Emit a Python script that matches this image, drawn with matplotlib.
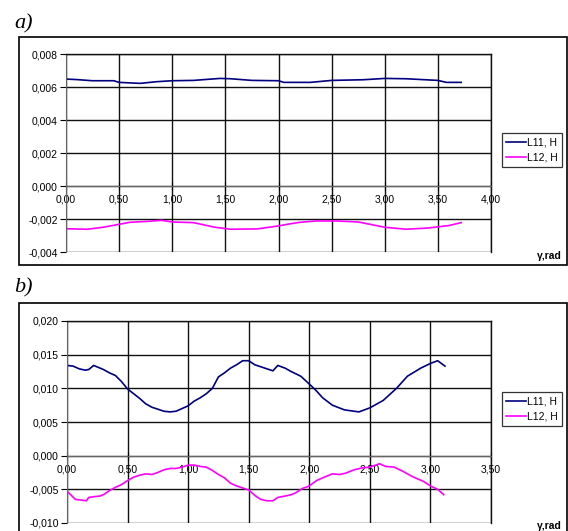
import matplotlib.pyplot as plt
from matplotlib.patches import Rectangle

# panel a data
xa_l11 = [0.00, 0.10, 0.25, 0.45, 0.50, 0.70, 0.85, 1.00, 1.20, 1.45, 1.55, 1.75, 2.00, 2.05, 2.30, 2.50, 2.80, 3.00, 3.20, 3.50, 3.58, 3.72]
ya_l11 = [0.00648, 0.00645, 0.00638, 0.00638, 0.00628, 0.00622, 0.00632, 0.00638, 0.00640, 0.00652, 0.00650, 0.00640, 0.00638, 0.00628, 0.00628, 0.00640, 0.00644, 0.00652, 0.00650, 0.00640, 0.00628, 0.00628]
xa_l12 = [0.00, 0.20, 0.35, 0.50, 0.60, 0.75, 0.90, 1.00, 1.20, 1.40, 1.55, 1.80, 2.00, 2.10, 2.20, 2.35, 2.55, 2.75, 3.00, 3.20, 3.40, 3.60, 3.72]
ya_l12 = [-0.00259, -0.00262, -0.00250, -0.00232, -0.00220, -0.00215, -0.00208, -0.00218, -0.00222, -0.00250, -0.00262, -0.00260, -0.00242, -0.00230, -0.00220, -0.00212, -0.00212, -0.00218, -0.00250, -0.00262, -0.00255, -0.00240, -0.00222]

# panel b data
xb_l11 = [0.00, 0.05, 0.10, 0.15, 0.18, 0.22, 0.30, 0.35, 0.40, 0.45, 0.50, 0.55, 0.60, 0.65, 0.70, 0.75, 0.80, 0.85, 0.90, 0.95,
          1.00, 1.05, 1.10, 1.15, 1.20, 1.25, 1.30, 1.35, 1.40, 1.45, 1.50, 1.55, 1.60, 1.65, 1.70, 1.74, 1.80, 1.85,
          1.93, 2.02, 2.06, 2.11, 2.19, 2.29, 2.41, 2.50, 2.61, 2.72, 2.81, 2.92, 3.00, 3.06, 3.12]
yb_l11 = [0.0134, 0.0133, 0.0129, 0.0127, 0.0128, 0.0134, 0.0128, 0.0123, 0.0119, 0.0110, 0.0099, 0.0092, 0.0085, 0.0077, 0.0072, 0.0069, 0.0066, 0.0065, 0.0066, 0.0070,
          0.0074, 0.0081, 0.0086, 0.0092, 0.0100, 0.0117, 0.0123, 0.0130, 0.0135, 0.0141, 0.0141, 0.0135, 0.0132, 0.0129, 0.0126, 0.0134, 0.0130, 0.0125,
          0.0118, 0.0103, 0.0096, 0.0086, 0.0075, 0.0068, 0.0065, 0.0071, 0.0082, 0.0100, 0.0118, 0.0130, 0.0137, 0.0141, 0.0133]
xb_l12 = [0.00, 0.03, 0.07, 0.12, 0.16, 0.18, 0.22, 0.27, 0.30, 0.35, 0.40, 0.45, 0.50, 0.55, 0.60, 0.65, 0.70, 0.75, 0.80, 0.85, 0.90, 0.95,
          1.00, 1.05, 1.10, 1.15, 1.20, 1.25, 1.30, 1.35, 1.40, 1.45, 1.50, 1.55, 1.60, 1.65, 1.70, 1.74, 1.80, 1.85,
          1.89, 1.94, 2.00, 2.06, 2.11, 2.19, 2.25, 2.30, 2.37, 2.44, 2.50, 2.58, 2.63, 2.70, 2.77, 2.85, 2.94, 3.01, 3.06, 3.11]
yb_l12 = [-0.0053, -0.0058, -0.0065, -0.0066, -0.0067, -0.0062, -0.0061, -0.0060, -0.0058, -0.0052, -0.0047, -0.0043, -0.0037, -0.0032, -0.0029, -0.0027, -0.0028, -0.0025, -0.0021, -0.0019, -0.0019, -0.0017,
          -0.0014, -0.0014, -0.0016, -0.0017, -0.0022, -0.0028, -0.0033, -0.0041, -0.0045, -0.0048, -0.0051, -0.0059, -0.0065, -0.0067, -0.0067, -0.0062, -0.0060, -0.0058,
          -0.0055, -0.0049, -0.0045, -0.0037, -0.0033, -0.0027, -0.0028, -0.0026, -0.0021, -0.0018, -0.0017, -0.0012, -0.0016, -0.0017, -0.0023, -0.0031, -0.0038, -0.0046, -0.0050, -0.0058]

xticks_a = [0, 0.5, 1.0, 1.5, 2.0, 2.5, 3.0, 3.5, 4.0]
xlabels_a = ['0,00', '0,50', '1,00', '1,50', '2,00', '2,50', '3,00', '3,50', '4,00']
yticks_a = [-0.004, -0.002, 0.0, 0.002, 0.004, 0.006, 0.008]
ylabels_a = ['-0,004', '-0,002', '0,000', '0,002', '0,004', '0,006', '0,008']
xticks_b = [0, 0.5, 1.0, 1.5, 2.0, 2.5, 3.0, 3.5]
xlabels_b = ['0,00', '0,50', '1,00', '1,50', '2,00', '2,50', '3,00', '3,50']
yticks_b = [-0.010, -0.005, 0.0, 0.005, 0.010, 0.015, 0.020]
ylabels_b = ['-0,010', '-0,005', '0,000', '0,005', '0,010', '0,015', '0,020']

W, H = 568, 531
plt.rcParams['font.family'] = ['Liberation Sans', 'DejaVu Sans']
fig = plt.figure(figsize=(W / 100, H / 100), dpi=100)


def px_axes(l, t, r, b):
    return fig.add_axes([l / W, 1 - b / H, (r - l) / W, (b - t) / H])


def style(ax, xt, xl, yt, yl):
    ax.set_xticks(xt)
    ax.set_xticklabels(xl)
    ax.set_yticks(yt)
    ax.set_yticklabels(yl)
    ax.set_xlim(xt[0], xt[-1])
    ax.set_ylim(yt[0], yt[-1])
    ax.grid(True, color='#111111', lw=1.0)
    for s in ['top', 'right']:
        ax.spines[s].set_color('#111111')
        ax.spines[s].set_linewidth(1.0)
    ax.spines['left'].set_color('#666666')
    ax.spines['bottom'].set_position(('data', 0))
    ax.spines['bottom'].set_color('#666666')
    ax.tick_params(axis='x', direction='inout', length=6, labelsize=7.5, pad=3)
    ax.tick_params(axis='y', direction='out', length=4, labelsize=7.5, pad=2)
    ax.set_axisbelow(True)


# frames
fig.add_artist(Rectangle((19 / W, 1 - 265 / H), 548 / W, 228 / H, transform=fig.transFigure,
                         fill=False, ec='black', lw=1.2))
fig.add_artist(Rectangle((19 / W, 1 - 533 / H), 548 / W, 230 / H, transform=fig.transFigure,
                         fill=False, ec='black', lw=1.2))

ax1 = px_axes(66, 54, 491, 252)
ax1.plot(xa_l11, ya_l11, color='#000080', lw=1.2, label='L11, H')
ax1.plot(xa_l12, ya_l12, color='#FF00FF', lw=1.2, label='L12, H')
style(ax1, xticks_a, xlabels_a, yticks_a, ylabels_a)

ax2 = px_axes(67, 321, 491, 523)
ax2.plot(xb_l11, yb_l11, color='#000080', lw=1.2, label='L11, H')
ax2.plot(xb_l12, yb_l12, color='#FF00FF', lw=1.2, label='L12, H')
style(ax2, xticks_b, xlabels_b, yticks_b, ylabels_b)

for ax, cy in [(ax1, 150), (ax2, 409)]:
    leg = ax.legend(loc='center', bbox_to_anchor=(532 / W, 1 - cy / H), bbox_transform=fig.transFigure,
                    fontsize=7.5, frameon=True, fancybox=False, handlelength=1.9, handletextpad=0.15,
                    borderpad=0.4, borderaxespad=0, labelspacing=0.5)
    leg.get_frame().set_edgecolor('black')
    leg.get_frame().set_linewidth(0.9)

fig.text(562 / W, 1 - 256 / H, 'γ,rad', fontsize=7.5, fontweight='bold', ha='right', va='center')
fig.text(562 / W, 1 - 526 / H, 'γ,rad', fontsize=7.5, fontweight='bold', ha='right', va='center')

fig.text(14 / W, 1 - 24 / H, 'a)', fontsize=16, fontstyle='italic', family='Liberation Serif', va='center')
fig.text(14 / W, 1 - 288 / H, 'b)', fontsize=16, fontstyle='italic', family='Liberation Serif', va='center')

fig.savefig('out.png', dpi=100)
